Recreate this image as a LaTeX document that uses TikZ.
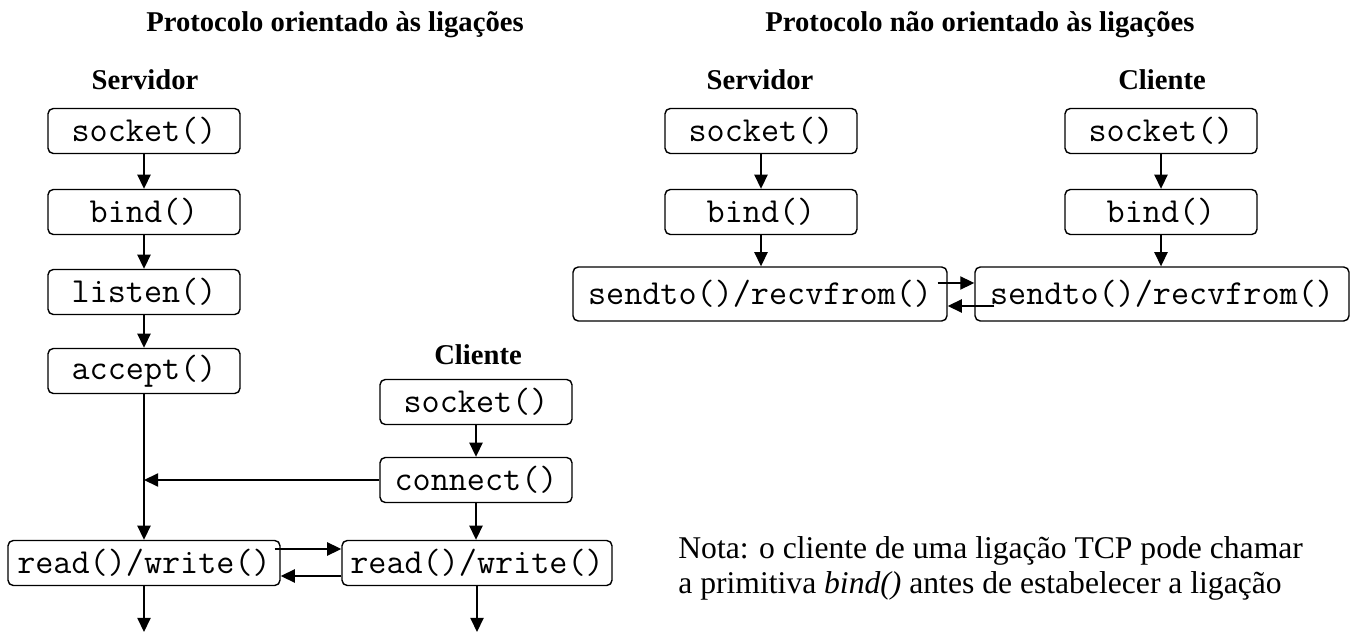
\documentclass[tikz,border=0pt]{standalone}
\usepackage{fontspec}
\setmainfont{Liberation Serif}
\usepackage{tikz}
\usetikzlibrary{arrows.meta}

\tikzset{
  callbox/.style={draw, line width=0.8pt, rounded corners=3pt, minimum width=3.84cm,
    minimum height=0.9cm, inner sep=0pt, font=\ttfamily\fontsize{20}{22}\selectfont},
  arr/.style={line width=0.8pt, -{Triangle[length=8pt,width=7.5pt]}},
  heading/.style={font=\bfseries\fontsize{16.3}{20}\selectfont}
}

\begin{document}
\begin{tikzpicture}[every node/.style={font=\fontsize{18}{20}\selectfont}]
  \useasboundingbox (0,0) rectangle (27.02,-12.74);

  % orientado as ligacoes
  \node[heading] at (6.70,-0.50) {Protocolo orientado às ligações};
  \node[heading] at (2.90,-1.60) {Servidor};
  \foreach \n/\t/\y in {sA/socket()/-2.62,bA/bind()/-4.24,lA/listen()/-5.84,aA/accept()/-7.42}{
    \node[callbox] (\n) at (2.88,\y) {\t};
  }
  \draw[arr] (sA) -- (bA);
  \draw[arr] (bA) -- (lA);
  \draw[arr] (lA) -- (aA);

  \node[heading] at (9.56,-7.10) {Cliente};
  \node[callbox] (sC) at (9.52,-8.04) {socket()};
  \node[callbox] (cC) at (9.52,-9.60) {connect()};
  \draw[arr] (sC) -- (cC);

  \node[callbox, minimum width=5.44cm] (rwA) at (2.88,-11.26) {read()/write()};
  \node[callbox, minimum width=5.40cm] (rwC) at (9.54,-11.26) {read()/write()};
  \draw[arr] (aA) -- (rwA);
  \draw[arr] (cC.west) -- (cC.west -| aA.south);
  \draw[arr] (cC) -- (rwC.north -| cC);
  \draw[arr] ([xshift=-0.12cm,yshift=0.28cm]rwA.east) -- ([yshift=0.28cm]rwC.west);
  \draw[arr] ([yshift=-0.26cm]rwC.west) -- ([yshift=-0.26cm]rwA.east);

  \coordinate (endA) at (2.88,-12.64);
  \coordinate (endC) at (9.54,-12.64);
  \draw[arr] (rwA) -- (endA);
  \draw[arr] (rwC) -- (endC);

  % nao orientado as ligacoes
  \node[heading] at (19.60,-0.50) {Protocolo não orientado às ligações};
  \node[heading] at (15.20,-1.60) {Servidor};
  \node[heading] at (23.24,-1.60) {Cliente};
  \foreach \n/\x in {S/15.22,C/23.22}{
    \node[callbox] (sock\n) at (\x,-2.62) {socket()};
    \node[callbox] (bind\n) at (\x,-4.24) {bind()};
    \draw[arr] (sock\n) -- (bind\n);
  }
  \node[callbox, minimum width=7.48cm, minimum height=1.08cm] (stS) at (15.20,-5.88) {sendto()/recvfrom()};
  \node[callbox, minimum width=7.48cm, minimum height=1.08cm] (stC) at (23.24,-5.88) {sendto()/recvfrom()};
  \draw[arr] (bindS) -- (stS.north -| bindS);
  \draw[arr] (bindC) -- (stC.north -| bindC);
  \draw[arr] ([xshift=-0.2cm,yshift=0.22cm]stS.east) -- ([yshift=0.22cm]stC.west);
  \draw[arr] ([xshift=0.4cm,yshift=-0.24cm]stC.west) -- ([yshift=-0.24cm]stS.east);

  \node[anchor=north west, align=left, inner sep=0pt] (nota) at (13.56,-10.72)
    {Nota: o cliente de uma ligação TCP pode chamar\\
     a primitiva \textit{bind()} antes de estabelecer a ligação};
\end{tikzpicture}
\end{document}
